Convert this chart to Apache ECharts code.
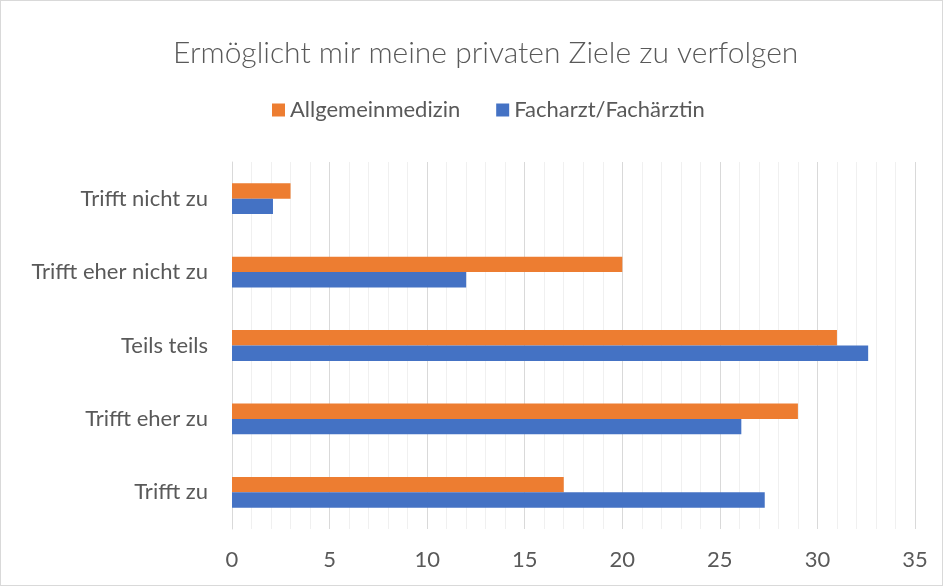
<!DOCTYPE html>
<html>
<head>
<meta charset="utf-8">
<script src="https://cdn.jsdelivr.net/npm/echarts@6/dist/echarts.min.js"></script>
<style>
  html, body { margin: 0; padding: 0; background: #fff; }
  #chart { width: 941px; height: 584px; border: 1px solid #d9d9d9; }
</style>
</head>
<body>
<div id="chart"></div>
<script>
// categories, bottom to top (ECharts draws the first category at the bottom)
var categories = ['Trifft zu', 'Trifft eher zu', 'Teils teils', 'Trifft eher nicht zu', 'Trifft nicht zu'];
var allgemein = [17, 29, 31, 20, 3];
var facharzt = [27.3, 26.1, 32.6, 12, 2.1];
var seriesNames = ['Allgemeinmedizin', 'Facharzt/Fachärztin'];
var colors = ['#ED7D31', '#4472C4'];

var font = 'Lato, "Open Sans", sans-serif';
var textColor = '#595959';

var myChart = echarts.init(document.getElementById('chart'));

var option = {
    animation: false,
    color: colors,
    title: {
        text: 'Ermöglicht mir meine privaten Ziele zu verfolgen',
        left: 167,
        top: 32,
        textStyle: { color: textColor, fontFamily: font, fontSize: 30, fontWeight: 300 }
    },
    legend: {
        data: seriesNames,
        left: 266,
        top: 93,
        itemWidth: 13,
        itemHeight: 13,
        itemGap: 36,
        icon: 'rect',
        textStyle: { color: textColor, fontFamily: font, fontSize: 22 }
    },
    grid: {
        left: 231,
        right: 27,
        top: 161,
        bottom: 56
    },
    xAxis: {
        type: 'value',
        min: 0,
        max: 35,
        interval: 5,
        axisLine: { show: false },
        axisTick: { show: false },
        axisLabel: { color: textColor, fontFamily: font, fontSize: 22, margin: 20 },
        splitLine: { lineStyle: { color: '#d9d9d9', width: 1 } },
        minorTick: { show: false, splitNumber: 5 },
        minorSplitLine: { show: true, lineStyle: { color: '#f0f0f0', width: 1 } }
    },
    yAxis: {
        type: 'category',
        data: categories,
        axisLine: { lineStyle: { color: '#d9d9d9', width: 1 } },
        axisTick: { length: 5, lineStyle: { color: '#d9d9d9' } },
        axisLabel: { color: textColor, fontFamily: font, fontSize: 22, margin: 24 }
    },
    series: [
        {
            name: seriesNames[0],
            type: 'bar',
            data: allgemein,
            itemStyle: { color: colors[0] },
            barGap: '0%',
            barCategoryGap: '58%'
        },
        {
            name: seriesNames[1],
            type: 'bar',
            data: facharzt,
            itemStyle: { color: colors[1] },
            barGap: '0%',
            barCategoryGap: '58%'
        }
    ]
};

myChart.setOption(option);
</script>
</body>
</html>
